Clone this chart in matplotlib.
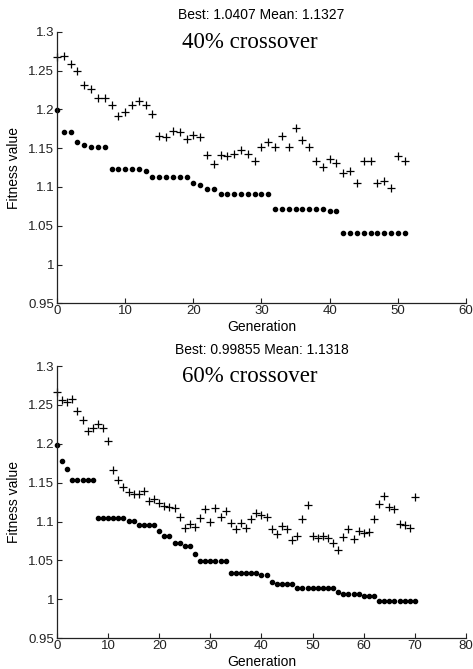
import matplotlib
matplotlib.use("Agg")
import matplotlib.pyplot as plt
from matplotlib.ticker import FuncFormatter
import numpy as np

# ---- data: 40% crossover ----
best_40 = [1.199, 1.171, 1.171, 1.158, 1.154, 1.151, 1.151, 1.151,
           1.1225, 1.1225, 1.1225, 1.1225, 1.1225, 1.120,
           1.1126, 1.1126, 1.1126, 1.1126, 1.1126, 1.1126,
           1.105, 1.103, 1.097, 1.097,
           1.0913, 1.0913, 1.0913, 1.0913, 1.0913, 1.0913, 1.0913, 1.0913,
           1.072, 1.072, 1.072, 1.072, 1.072, 1.072, 1.072, 1.072,
           1.0685, 1.0685,
           1.0407, 1.0407, 1.0407, 1.0407, 1.0407, 1.0407, 1.0407, 1.0407, 1.0407, 1.0407]
mean_40 = [1.268, 1.269, 1.258, 1.250, 1.231, 1.226, 1.214, 1.214, 1.205, 1.192,
           1.197, 1.206, 1.211, 1.205, 1.194, 1.165, 1.164, 1.172, 1.171, 1.162,
           1.167, 1.164, 1.141, 1.130, 1.141, 1.140, 1.142, 1.148, 1.143, 1.134,
           1.152, 1.158, 1.151, 1.165, 1.151, 1.176, 1.161, 1.151, 1.133, 1.126,
           1.136, 1.131, 1.118, 1.120, 1.105, 1.133, 1.134, 1.105, 1.107, 1.099,
           1.140, 1.133]

# ---- data: 60% crossover ----
best_60 = [1.199, 1.178, 1.168, 1.154, 1.154, 1.154, 1.154, 1.154,
           1.104, 1.104, 1.104, 1.104, 1.104, 1.104,
           1.101, 1.101, 1.095, 1.095, 1.095, 1.095,
           1.088, 1.082, 1.082, 1.073, 1.073, 1.068, 1.068, 1.058,
           1.049, 1.049, 1.049, 1.049, 1.049, 1.049,
           1.034, 1.034, 1.034, 1.034, 1.034, 1.034,
           1.032, 1.032, 1.023, 1.020, 1.020, 1.020, 1.020,
           1.015, 1.015, 1.015, 1.015, 1.015, 1.015, 1.015, 1.015,
           1.010, 1.0066, 1.0066, 1.0066, 1.0066, 1.0048, 1.0048, 1.0048,
           0.99855, 0.99855, 0.99855, 0.99855, 0.99855, 0.99855, 0.99855, 0.99855]
mean_60 = [1.267, 1.256, 1.254, 1.258, 1.242, 1.231, 1.217, 1.220, 1.225, 1.220,
           1.203, 1.166, 1.154, 1.144, 1.138, 1.136, 1.135, 1.139, 1.126, 1.129,
           1.124, 1.120, 1.119, 1.118, 1.106, 1.092, 1.097, 1.093, 1.104, 1.116,
           1.100, 1.118, 1.106, 1.114, 1.098, 1.090, 1.098, 1.092, 1.103, 1.111,
           1.108, 1.106, 1.091, 1.084, 1.094, 1.091, 1.076, 1.081, 1.103, 1.121,
           1.082, 1.079, 1.082, 1.079, 1.072, 1.064, 1.080, 1.090, 1.077, 1.088,
           1.085, 1.087, 1.103, 1.122, 1.133, 1.119, 1.116, 1.097, 1.096, 1.092,
           1.132]

titles = ["Best: 1.0407 Mean: 1.1327", "Best: 0.99855 Mean: 1.1318"]
labels = ["40% crossover", "60% crossover"]
xlims = [60, 80]
yticks = [0.95, 1.0, 1.05, 1.1, 1.15, 1.2, 1.25, 1.3]

plt.rcParams['font.family'] = ['Liberation Sans', 'DejaVu Sans']

fig = plt.figure(figsize=(4.73, 6.69), dpi=100)
axes_rects = [[0.1205, 0.5466, 0.8647, 0.406],
              [0.1205, 0.0459, 0.8647, 0.407]]

for rect, best, mean, title, lab, xl in zip(axes_rects, [best_40, best_60],
                                             [mean_40, mean_60], titles, labels, xlims):
    ax = fig.add_axes(rect)
    gens = np.arange(len(best))
    ax.plot(gens, best, linestyle='none', marker='o', markersize=3.0,
            color='black', clip_on=False)
    ax.plot(np.arange(len(mean)), mean, linestyle='none', marker='+',
            markersize=6.2, markeredgewidth=0.9, color='black', clip_on=False)
    ax.set_xlim(0, xl)
    ax.set_ylim(0.95, 1.3)
    ax.set_yticks(yticks)
    ax.set_xticks(np.arange(0, xl + 1, 10))
    ax.yaxis.set_major_formatter(FuncFormatter(lambda v, p: '%g' % round(v, 2)))
    ax.spines['top'].set_visible(False)
    ax.spines['right'].set_visible(False)
    for s in ['left', 'bottom']:
        ax.spines[s].set_linewidth(0.9)
        ax.spines[s].set_color('#222222')
    ax.tick_params(direction='in', length=3.5, width=0.8, labelsize=9.5,
                   pad=2, colors='#222222')
    ax.tick_params(axis='x', pad=1)
    ax.set_xlabel('Generation', fontsize=10)
    ax.xaxis.set_label_coords(0.5, -0.062)
    ax.set_ylabel('Fitness value', fontsize=10)
    ax.yaxis.set_label_coords(-0.088, 0.5)
    ax.set_title(title, fontsize=10, pad=9)
    ax.text(0.472, 1.0, lab, transform=ax.transAxes, ha='center', va='top',
            fontsize=16.5, family=['Liberation Serif', 'DejaVu Serif'])

fig.savefig('out.png', dpi=100)
